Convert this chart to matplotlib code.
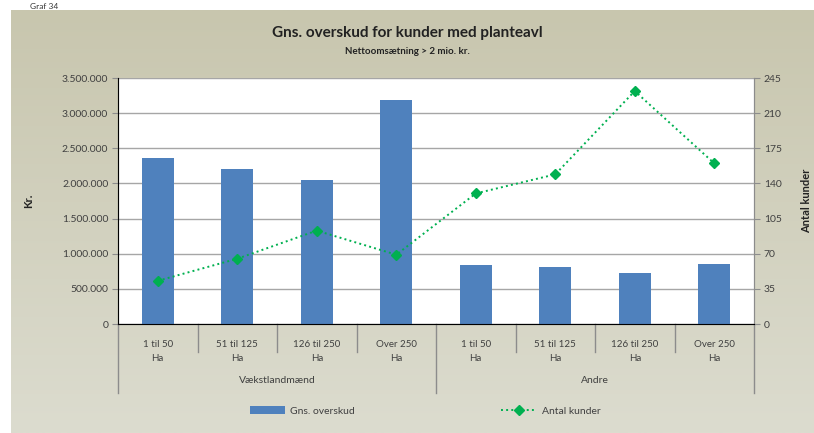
import matplotlib
matplotlib.use("Agg")
import matplotlib.pyplot as plt
import numpy as np
from matplotlib.ticker import FuncFormatter, FixedLocator
import matplotlib.transforms as mtransforms

plt.rcParams['font.family'] = ['Lato', 'DejaVu Sans']

categories = ["1 til 50\nHa", "51 til 125\nHa", "126 til 250\nHa", "Over 250\nHa",
              "1 til 50\nHa", "51 til 125\nHa", "126 til 250\nHa", "Over 250\nHa"]
groups = ["Vækstlandmænd", "Andre"]
overskud = [2360000, 2205000, 2050000, 3185000, 840000, 815000, 728000, 855000]
antal_kunder = [43, 65, 93, 69, 130, 149, 232, 160]
left_ticks = [0, 500000, 1000000, 1500000, 2000000, 2500000, 3000000, 3500000]
right_ticks = [0, 35, 70, 105, 140, 175, 210, 245]

W, H = 814, 433
fig = plt.figure(figsize=(W / 100, H / 100), dpi=100)
fig.patch.set_facecolor("white")

# gradient background of chart area
bg = fig.add_axes([11 / W, 0, 1 - 11 / W, 1 - 10 / H], zorder=-10)
grad = np.linspace(0, 1, 256).reshape(-1, 1)
c_top = np.array([0xc8, 0xc6, 0xae]) / 255
c_bot = np.array([0xdc, 0xdc, 0xcf]) / 255
img = c_top[None, None, :] * (1 - grad[:, :, None]) + c_bot[None, None, :] * grad[:, :, None]
bg.imshow(img, aspect="auto", extent=[0, 1, 0, 1])
bg.set_axis_off()

fig.text(30 / W, 1 - 10 / H, "Graf 34", fontsize=6, color="#333333", ha="left", va="bottom")

ax = fig.add_axes([118 / W, 1 - 324 / H, (754 - 118) / W, (324 - 78) / H])
ax.set_facecolor("white")
x = np.arange(len(categories))
ax.bar(x, overskud, width=0.4, color="#4f81bd", zorder=3, label="Gns. overskud")
ax.set_xlim(-0.5, len(categories) - 0.5)
ax.set_ylim(0, 3500000)
ax.yaxis.set_major_locator(FixedLocator(left_ticks))
ax.yaxis.set_major_formatter(FuncFormatter(lambda v, p: f"{int(v):,}".replace(",", ".")))
ax.grid(axis="y", color="#a6a6a6", linewidth=1.0, zorder=0)
ax.set_xticks([])
ax.spines["top"].set_visible(False)
ax.spines["left"].set_color("#8c8c8c")
ax.spines["bottom"].set_color("#8c8c8c")
ax.spines["right"].set_color("#8c8c8c")
ax.tick_params(axis="y", labelsize=7.5, colors="#8c8c8c", labelcolor="#404040", length=4, pad=3)
ax.set_ylabel("Kr.", fontsize=8, fontweight="bold", color="#222222", labelpad=20)

ax2 = ax.twinx()
ax2.plot(x, antal_kunder, color="#00b050", linestyle=":", linewidth=1.4,
         marker="D", markersize=5.5, label="Antal kunder", zorder=4)
ax2.set_ylim(0, 245)
ax2.yaxis.set_major_locator(FixedLocator(right_ticks))
ax2.tick_params(axis="y", labelsize=7.5, colors="#8c8c8c", labelcolor="#404040", length=4, pad=3)
ax2.spines["top"].set_visible(False)
ax2.spines["right"].set_color("#8c8c8c")
ax2.set_ylabel("Antal kunder", fontsize=8, fontweight="bold", color="#222222", labelpad=14)

# category labels and separators
trans = mtransforms.blended_transform_factory(ax.transData, ax.transAxes)
for i, lab in enumerate(categories):
    ax.text(i, -0.11, lab, transform=trans, ha="center", va="center",
            fontsize=7, color="#404040", linespacing=1.7)
for b in np.arange(-0.5, len(categories), 1.0):
    is_group = b in (-0.5, 3.5, 7.5)
    ax.plot([b, b], [0, -0.28 if is_group else -0.115], transform=trans,
            color="#8c8c8c", linewidth=1.0, clip_on=False)
ax.text(1.5, -0.23, groups[0], transform=trans, ha="center", va="center", fontsize=7.5, color="#404040")
ax.text(5.5, -0.23, groups[1], transform=trans, ha="center", va="center", fontsize=7.5, color="#404040")

fig.text(0.5, 1 - 33 / H, "Gns. overskud for kunder med planteavl", ha="center", va="center",
         fontsize=11, fontweight="bold", color="#222222")
fig.text(0.5, 1 - 52 / H, "Nettoomsætning > 2 mio. kr.", ha="center", va="center",
         fontsize=7, fontweight="bold", color="#222222")

h1, l1 = ax.get_legend_handles_labels()
h2, l2 = ax2.get_legend_handles_labels()
leg = fig.legend(h1 + h2, l1 + l2, loc="center", bbox_to_anchor=(425 / W, 1 - 411 / H),
                 ncol=2, frameon=False, fontsize=7.5, handlelength=3.4, columnspacing=14,
                 handletextpad=0.5)
for t in leg.get_texts():
    t.set_color("#404040")

fig.savefig("out.png", dpi=100)
